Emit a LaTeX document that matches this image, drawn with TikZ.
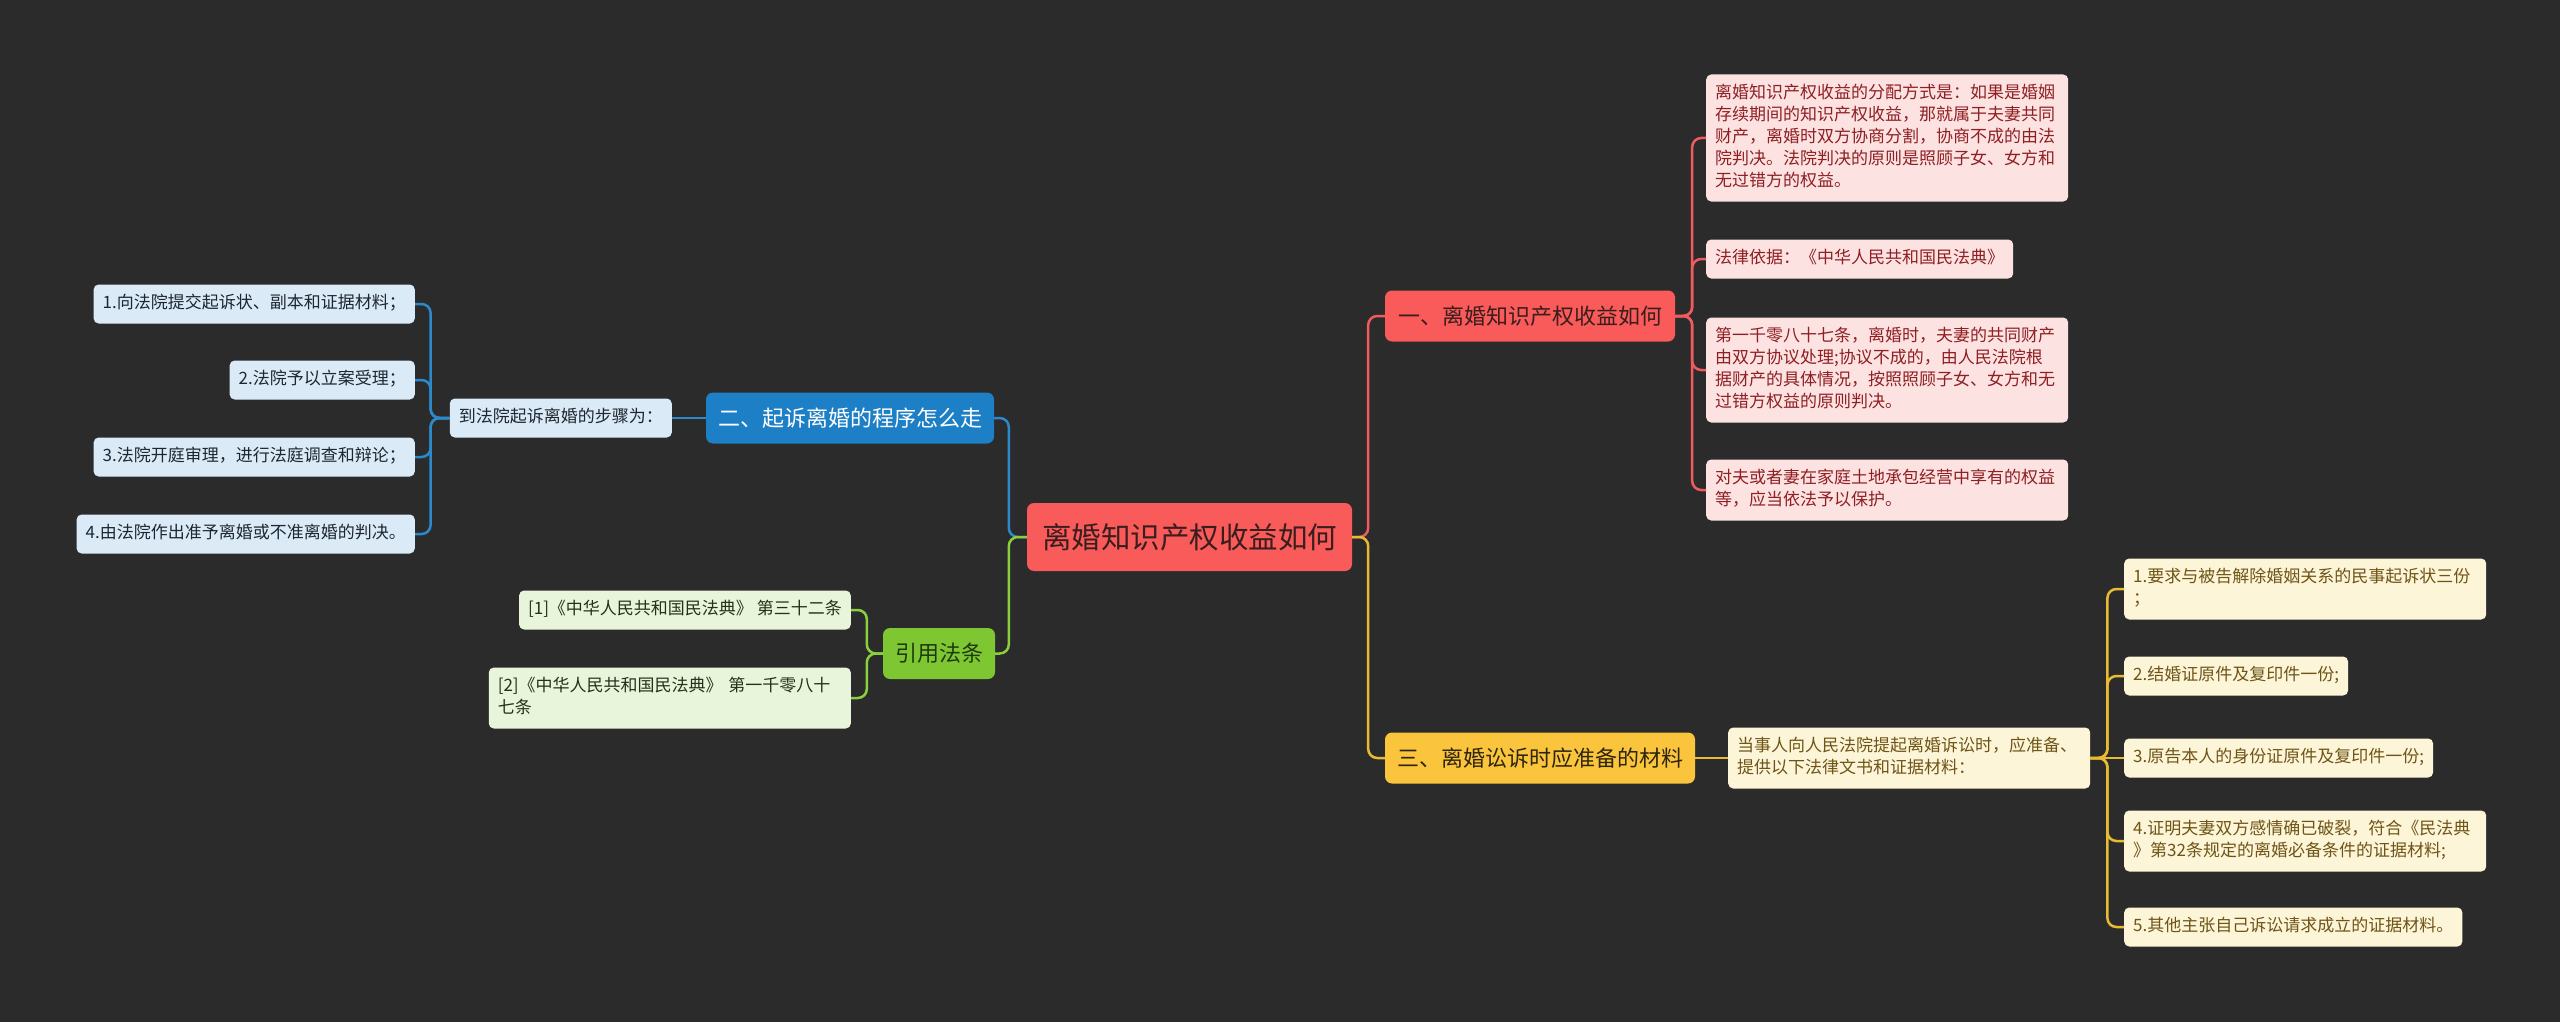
\documentclass[tikz,border=0pt]{standalone}
\usepackage{fontspec}
\newfontfamily\cjk{Noto Sans CJK SC}
\definecolor{bgDark}{HTML}{2B2B2B}
\definecolor{redMain}{HTML}{F95A5A}
\definecolor{rootText}{HTML}{3A1E1E}
\definecolor{redLine}{HTML}{EF5B5E}
\definecolor{redLeaf}{HTML}{FDE2E2}
\definecolor{redLeafText}{HTML}{8E1F23}
\definecolor{blueMain}{HTML}{1D7FC6}
\definecolor{blueLine}{HTML}{2B89CC}
\definecolor{blueLeaf}{HTML}{DAEBF7}
\definecolor{blueLeafText}{HTML}{1E2730}
\definecolor{greenMain}{HTML}{7EC733}
\definecolor{greenText}{HTML}{1F3A0E}
\definecolor{greenLine}{HTML}{8ACF3E}
\definecolor{greenLeaf}{HTML}{E9F5DA}
\definecolor{greenLeafText}{HTML}{24301A}
\definecolor{yellowMain}{HTML}{FAC53C}
\definecolor{yellowText}{HTML}{2E250E}
\definecolor{yellowLine}{HTML}{E9BA33}
\definecolor{yellowLeaf}{HTML}{FCF5D8}
\definecolor{yellowLeafText}{HTML}{6F5417}

\begin{document}
\begin{tikzpicture}[
  x=1pt, y=-1pt,
  every node/.style={font=\cjk},
  topic/.style={rounded corners=7pt, inner sep=0pt, align=center},
  rootBox/.style={topic, fill=redMain, text=rootText, minimum width=325pt,
    minimum height=68pt, font=\cjk\fontsize{29.5}{34}\selectfont},
  mainBox/.style={topic, minimum height=51pt, font=\cjk\fontsize{22}{26}\selectfont},
  mainRed/.style={mainBox, fill=redMain, text=rootText, minimum width=290pt},
  mainBlue/.style={mainBox, fill=blueMain, text=white, minimum width=288pt},
  mainGreen/.style={mainBox, fill=greenMain, text=greenText, minimum width=112pt},
  mainYellow/.style={mainBox, fill=yellowMain, text=yellowText, minimum width=310pt},
  leaf/.style={rounded corners=5pt, inner xsep=9pt, inner ysep=8.5pt, align=left,
    font=\cjk\fontsize{17}{22}\selectfont,
    execute at begin node=\strut, execute at end node=\strut},
  leafRed/.style={leaf, fill=redLeaf, text=redLeafText},
  leafBlue/.style={leaf, fill=blueLeaf, text=blueLeafText},
  leafGreen/.style={leaf, fill=greenLeaf, text=greenLeafText},
  leafYellow/.style={leaf, fill=yellowLeaf, text=yellowLeafText},
  link/.style={line width=2.5pt, rounded corners=9pt},
  linkRed/.style={link, draw=redLine},
  linkBlue/.style={link, draw=blueLine},
  linkGreen/.style={link, draw=greenLine},
  linkYellow/.style={link, draw=yellowLine}
]
  \fill[bgDark] (0,0) rectangle (2560,1022);
  \useasboundingbox (0,0) rectangle (2560,1022);

  %% ---- 中心主题 ------------------------------------------------------
  \node[rootBox] (root) at (1189.5,537) {离婚知识产权收益如何};

  %% ---- 一级分支 ------------------------------------------------------
  \node[mainRed]    (kOne)   at (1530,316)   {一、离婚知识产权收益如何};
  \node[mainBlue]   (kTwo)   at (850,418)    {二、起诉离婚的程序怎么走};
  \node[mainGreen]  (kLaw)   at (939,653.5)  {引用法条};
  \node[mainYellow] (kThree) at (1540,758)   {三、离婚讼诉时应准备的材料};

  %% ---- 一、右上 ------------------------------------------------------
  \node[leafRed, anchor=west, text width=344pt] (rOne) at (1706,138)
    {离婚知识产权收益的分配方式是：如果是婚姻\\存续期间的知识产权收益，那就属于夫妻共同\\财产，离婚时双方协商分割，协商不成的由法\\院判决。法院判决的原则是照顾子女、女方和\\无过错方的权益。};
  \node[leafRed, anchor=west] (rTwo) at (1706,259)
    {法律依据：《中华人民共和国民法典》};
  \node[leafRed, anchor=west, text width=344pt] (rThree) at (1706,370)
    {第一千零八十七条，离婚时，夫妻的共同财产\\由双方协议处理;协议不成的，由人民法院根\\据财产的具体情况，按照照顾子女、女方和无\\过错方权益的原则判决。};
  \node[leafRed, anchor=west, text width=344pt] (rFour) at (1706,490)
    {对夫或者妻在家庭土地承包经营中享有的权益\\等，应当依法予以保护。};

  %% ---- 二、左侧 ------------------------------------------------------
  \node[leafBlue, anchor=east] (bMid) at (672,418) {到法院起诉离婚的步骤为：};
  \node[leafBlue, anchor=east] (bOne)   at (415,304) {1.向法院提交起诉状、副本和证据材料；};
  \node[leafBlue, anchor=east] (bTwo)   at (415,380) {2.法院予以立案受理；};
  \node[leafBlue, anchor=east] (bThree) at (415,457) {3.法院开庭审理，进行法庭调查和辩论；};
  \node[leafBlue, anchor=east] (bFour)  at (415,534) {4.由法院作出准予离婚或不准离婚的判决。};

  %% ---- 引用法条 ------------------------------------------------------
  \node[leafGreen, anchor=east] (gOne) at (851,610)
    {[1]《中华人民共和国民法典》 第三十二条};
  \node[leafGreen, anchor=east, text width=344pt] (gTwo) at (851,698)
    {[2]《中华人民共和国民法典》~第一千零八十\\七条};

  %% ---- 三、右下 ------------------------------------------------------
  \node[leafYellow, anchor=west, text width=344pt] (yMid) at (1728,758)
    {当事人向人民法院提起离婚诉讼时，应准备、\\提供以下法律文书和证据材料：};
  \node[leafYellow, anchor=west, text width=344pt] (yOne) at (2124,589)
    {1.要求与被告解除婚姻关系的民事起诉状三份\\；};
  \node[leafYellow, anchor=west] (yTwo)   at (2124,676) {2.结婚证原件及复印件一份;};
  \node[leafYellow, anchor=west] (yThree) at (2124,758) {3.原告本人的身份证原件及复印件一份;};
  \node[leafYellow, anchor=west, text width=344pt] (yFour) at (2124,841)
    {4.证明夫妻双方感情确已破裂，符合《民法典\\》第32条规定的离婚必备条件的证据材料;};
  \node[leafYellow, anchor=west] (yFive)  at (2124,927) {5.其他主张自己诉讼请求成立的证据材料。};

  %% ---- 连线 ----------------------------------------------------------
  \draw[linkRed]    (root.east) -- ++(16,0) |- (kOne.west);
  \draw[linkYellow] (root.east) -- ++(16,0) |- (kThree.west);
  \draw[linkBlue]   (root.west) -- ++(-18,0) |- (kTwo.east);
  \draw[linkGreen]  (root.west) -- ++(-18,0) |- (kLaw.east);

  \foreach \n in {rOne,rTwo,rThree,rFour}
    \draw[linkRed] (kOne.east) -- ++(17,0) |- (\n.west);

  \draw[linkBlue] (kTwo.west) -- (bMid.east);
  \foreach \n in {bOne,bTwo,bThree,bFour}
    \draw[linkBlue] (bMid.west) -- ++(-19,0) |- (\n.east);

  \foreach \n in {gOne,gTwo}
    \draw[linkGreen] (kLaw.west) -- ++(-16,0) |- (\n.east);

  \draw[linkYellow] (kThree.east) -- (yMid.west);
  \foreach \n in {yOne,yTwo,yFour,yFive}
    \draw[linkYellow] (yMid.east) -- ++(17,0) |- (\n.west);
  \draw[linkYellow] (yMid.east) -- (yThree.west);

\end{tikzpicture}
\end{document}
